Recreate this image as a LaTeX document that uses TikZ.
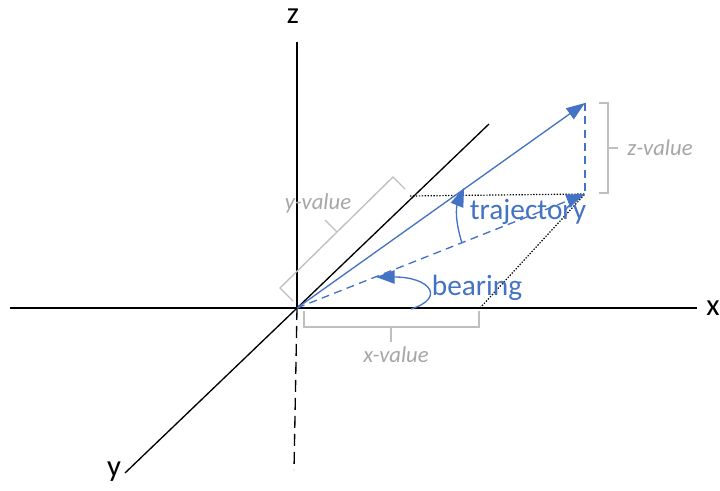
\documentclass[tikz,border=0pt]{standalone}
\usepackage{fontspec}
\setmainfont{Carlito}
\usetikzlibrary{arrows.meta}

\definecolor{vblue}{HTML}{4472C4}
\definecolor{brgray}{HTML}{BFBFBF}
\definecolor{txgray}{HTML}{A6A6A6}

\begin{document}
\begin{tikzpicture}[x=0.75pt, y=-0.75pt,
        axis/.style = {line width=1pt, draw=black},
        axlabel/.style = {font=\fontsize{23}{26}\selectfont, text=black, inner sep=0pt},
        vec/.style = {-{Triangle[length=14pt, width=10pt]}, line width=1pt, draw=vblue},
        proj/.style = {line width=1pt, draw=vblue, dash pattern=on 6pt off 4pt},
        guide/.style = {line width=0.9pt, draw=black, dash pattern=on 1pt off 1.2pt},
        brack/.style = {line width=1pt, draw=brgray},
        vallabel/.style = {font=\fontsize{17}{20}\selectfont\itshape, text=txgray, inner sep=0pt},
        anglabel/.style = {font=\fontsize{22}{25}\selectfont, text=vblue, inner sep=0pt}
    ]
        \useasboundingbox (0,0) rectangle (720,491);

        % Points
        \coordinate (O) at (297,308);
        \coordinate (V) at (585,103);
        \coordinate (P) at (585,194);
        \coordinate (xe) at (697,308);
        \coordinate (xs) at (10,308);
        \coordinate (ze) at (297,42);
        \coordinate (zb) at (294,470);
        \coordinate (ye) at (489,124);
        \coordinate (ys) at (125,473);
        \coordinate (Py) at (410,196);
        \coordinate (Px) at (480,308);

        % Axes
        \draw[axis] (xs) -- (xe);
        \draw[axis] (O) -- (ze);
        \draw[axis, dash pattern=on 9pt off 4.5pt] (O) -- (zb);
        \draw[axis] (ys) -- (ye);
        \node[axlabel] (xlab) at (713,308) {x};
        \node[axlabel] (zlab) at (293,16) {z};
        \node[axlabel] (ylab) at (114,472) {y};

        % Projection guides
        \draw[guide] (Py) -- (P);
        \draw[guide] (Px) -- (P);
        \draw[proj] (V) -- (P);

        % Vector and its ground projection
        \draw[vec] (O) -- (V);
        \draw[proj, -{Triangle[length=14pt, width=10pt]}] (O) -- (P);

        % Angles
        \coordinate (t1) at (462,243);
        \coordinate (t2) at (464,188);
        \draw[vec] (t1) to[bend left=20] (t2);
        \coordinate (b1) at (411,309);
        \coordinate (b2) at (376,277);
        \draw[vec] (b1) .. controls (446,298) and (430,277) .. (b2);
        \node[anglabel] (traj) at (528,212) {trajectory};
        \node[anglabel] (bear) at (477,288) {bearing};

        % x-value bracket
        \coordinate (xv) at (391,327);
        \draw[brack] (304,311) -- (304,327) -- (479,327) -- (479,311);
        \draw[brack] (xv) -- ++(0,15);
        \node[vallabel] (xval) at (396,355) {x-value};

        % y-value bracket
        \coordinate (yv) at (337,232);
        \draw[brack] (293,301) -- (280,288) -- (393,177) -- (405,189);
        \draw[brack] (yv) -- ++(-12,-12);
        \node[vallabel] (yval) at (318,203) {y-value};

        % z-value bracket
        \coordinate (zv) at (608,148);
        \draw[brack] (599,103) -- (608,103) -- (608,193) -- (599,193);
        \draw[brack] (zv) -- ++(10,0);
        \node[vallabel] (zval) at (660,148) {z-value};

    \end{tikzpicture}
\end{document}
